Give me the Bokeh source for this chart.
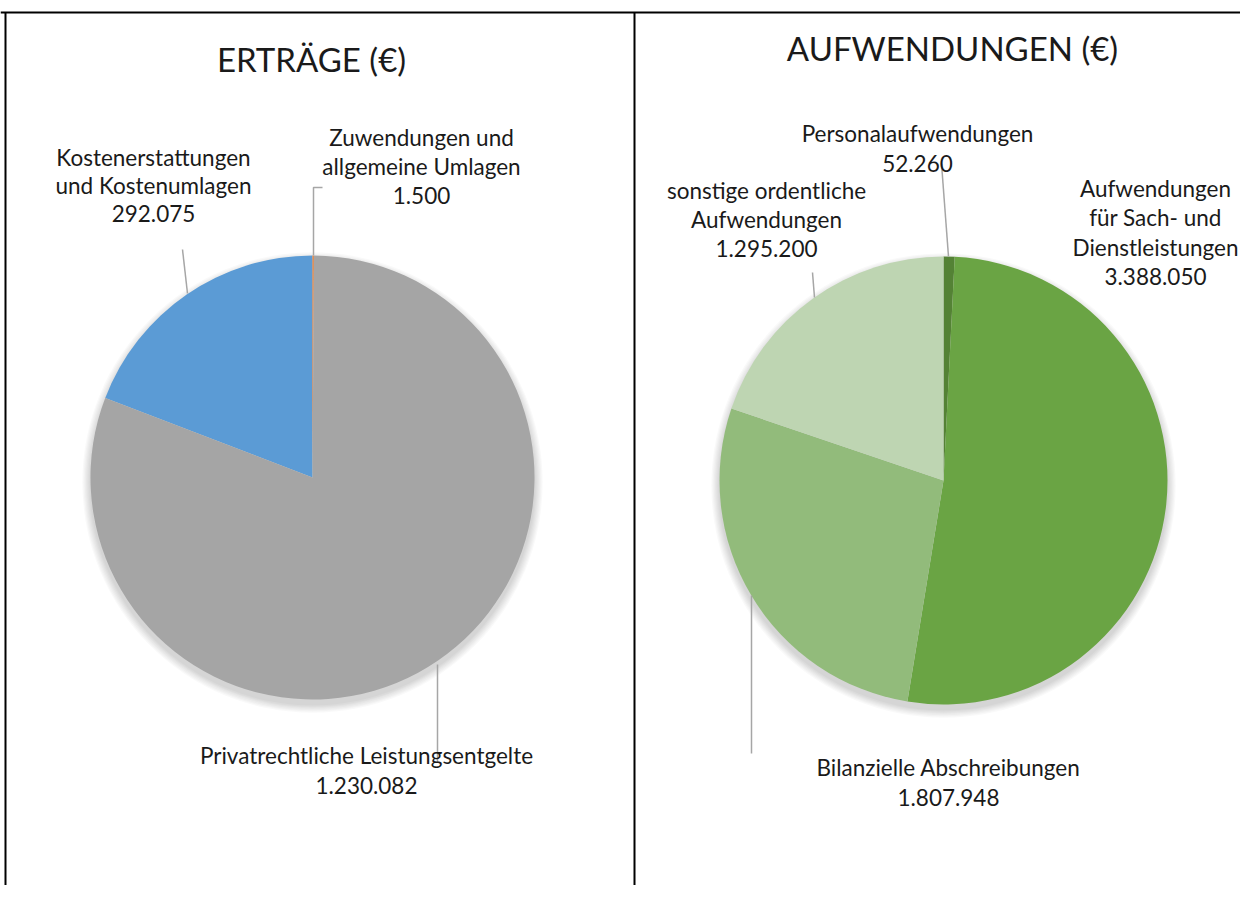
import math
from bokeh.plotting import figure
from bokeh.models import Range1d
from bokeh.core.properties import value
from bokeh.embed import file_html
from bokeh.resources import INLINE

# ---------------- data ----------------
ertraege_title = "ERTRÄGE (€)"
ertraege_labels = ["Kostenerstattungen\nund Kostenumlagen",
                   "Zuwendungen und\nallgemeine Umlagen",
                   "Privatrechtliche Leistungsentgelte"]
ertraege_values = [292075, 1500, 1230082]
ertraege_colors = ["#5B9BD5", "#ED7D31", "#A5A5A5"]

aufw_title = "AUFWENDUNGEN (€)"
aufw_labels = ["Personalaufwendungen",
               "Aufwendungen\nfür Sach- und\nDienstleistungen",
               "Bilanzielle Abschreibungen",
               "sonstige ordentliche\nAufwendungen"]
aufw_values = [52260, 3388050, 1807948, 1295200]
aufw_colors = ["#548235", "#6AA444", "#92BB7B", "#BED5B2"]

FONT = "Lato"
W, H = 1240, 885


def X(px):
    return px


def Y(py):
    return H - py


def fmt(v):
    return f"{v:,}".replace(",", ".")


p = figure(width=W, height=H, x_range=Range1d(0, W), y_range=Range1d(0, H),
           output_backend="svg", toolbar_location=None, min_border=0,
           x_axis_location=None, y_axis_location=None)
p.grid.visible = False
p.outline_line_color = None
p.background_fill_color = "white"
p.border_fill_color = "white"


def draw_pie(cx, cy, r, values, colors, first_angle):
    total = float(sum(values))
    # soft shadow
    for k in range(7):
        p.circle(x=[X(cx)], y=[Y(cy + 5)], radius=r + 1 + k * 1.2,
                 fill_color="black", fill_alpha=0.025, line_color=None)
    theta = first_angle
    for v, c in zip(values, colors):
        sweep = 360.0 * v / total
        t1, t2 = theta, theta + sweep
        start = math.radians(90 - t2)
        end = math.radians(90 - t1)
        p.wedge(x=[X(cx)], y=[Y(cy)], radius=r, start_angle=start, end_angle=end,
                fill_color=c, line_color=None)
        theta = t2


def label(x, y, txt, size="22.5px", lh=1.09):
    p.text(x=[X(x)], y=[Y(y)], text=[txt], text_font=value(FONT), text_font_size=size,
           text_align="center", text_baseline="middle", text_color="#1a1a1a",
           text_line_height=lh)


def leader(xs, ys):
    p.line(x=[X(v) for v in xs], y=[Y(v) for v in ys], line_color="#A6A6A6", line_width=1.5)


# --- left pie ---
e_total = sum(ertraege_values)
first1 = 360.0 - 360.0 * ertraege_values[0] / e_total
draw_pie(312, 477, 222, ertraege_values, ertraege_colors, first1)

# --- right pie ---
draw_pie(943, 480, 224, aufw_values, aufw_colors, 0.0)

# leaders
leader([182, 187], [249, 293])
leader([322, 313, 313], [187, 187, 255])
leader([437, 437], [664, 762])
leader([941, 948], [163, 256])
leader([812, 814], [272, 297])
leader([751, 751], [595, 753])

# titles
label(311, 58, ertraege_title, "33px")
label(952, 47, aufw_title, "33px")

# data labels
label(153, 185, ertraege_labels[0] + "\n" + fmt(ertraege_values[0]), lh=1.04)
label(421, 166, ertraege_labels[1] + "\n" + fmt(ertraege_values[1]))
label(366, 770, ertraege_labels[2] + "\n" + fmt(ertraege_values[2]))

label(917, 148, aufw_labels[0] + "\n" + fmt(aufw_values[0]))
label(1155, 232, aufw_labels[1] + "\n" + fmt(aufw_values[1]))
label(948, 782, aufw_labels[2] + "\n" + fmt(aufw_values[2]))
label(766, 219, aufw_labels[3] + "\n" + fmt(aufw_values[3]))

# frame lines (table borders)
p.line(x=[X(0), X(W)], y=[Y(12), Y(12)], line_color="black", line_width=2)
p.line(x=[X(5), X(5)], y=[Y(12), Y(H)], line_color="black", line_width=2)
p.line(x=[X(634), X(634)], y=[Y(12), Y(H)], line_color="black", line_width=2)

open("out.html", "w").write(file_html(p, INLINE))
